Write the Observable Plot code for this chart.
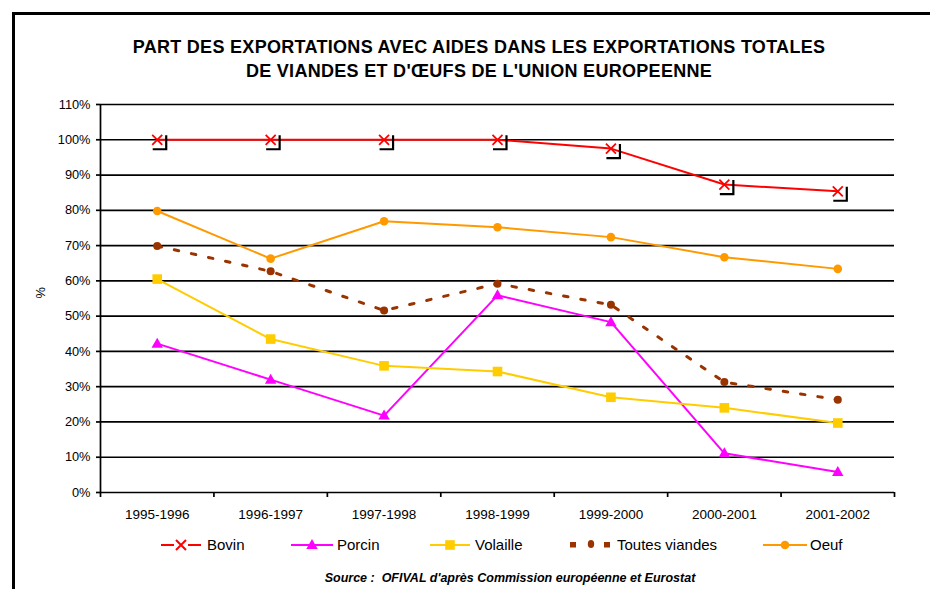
<!DOCTYPE html>
<html>
<head>
<meta charset="utf-8">
<script src="https://cdn.jsdelivr.net/npm/d3@7"></script>
<script src="https://cdn.jsdelivr.net/npm/@observablehq/plot@0.6"></script>
<style>
  html, body { margin: 0; padding: 0; background: #fff; width: 930px; height: 589px; overflow: hidden; }
  body { position: relative; font-family: "Liberation Sans", Arial, sans-serif; color: #000; }
  #frame { position: absolute; left: 12px; top: 12px; width: 940px; height: 600px;
           border-left: 3px solid #000; border-top: 3px solid #000; box-sizing: border-box; }
  #title { position: absolute; left: 0; top: 35px; width: 958px; text-align: center;
           font-weight: bold; font-size: 18px; line-height: 24px; letter-spacing: 0.3px; }
  #chart { position: absolute; left: 0; top: 90px; }
  #legend { position: absolute; left: 0; top: 530px; }
  #source { position: absolute; left: 0; top: 570px; width: 1020px; text-align: center;
            font-weight: bold; font-style: italic; font-size: 12.5px; line-height: 16px; }
</style>
</head>
<body>
<div id="frame"></div>
<div id="title">PART DES EXPORTATIONS AVEC AIDES DANS LES EXPORTATIONS TOTALES<br>DE VIANDES ET D'ŒUFS DE L'UNION EUROPEENNE</div>
<div id="chart"></div>
<div id="legend"></div>
<div id="source">Source :&nbsp; OFIVAL d'après Commission européenne et Eurostat</div>
<script>
// ---- data ----
const categories = ["1995-1996", "1996-1997", "1997-1998", "1998-1999", "1999-2000", "2000-2001", "2001-2002"];
const seriesNames = ["Bovin", "Porcin", "Volaille", "Toutes viandes", "Oeuf"];
const bovin    = [100, 100, 100, 100, 97.5, 87.3, 85.4];
const porcin   = [42.2, 32.0, 21.8, 55.9, 48.3, 11.1, 5.8];
const volaille = [60.5, 43.5, 35.9, 34.3, 27.0, 24.0, 19.7];
const toutes   = [69.9, 62.7, 51.6, 59.2, 53.2, 31.3, 26.3];
const oeuf     = [79.8, 66.3, 76.9, 75.2, 72.4, 66.7, 63.4];
const yTicks = [0, 10, 20, 30, 40, 50, 60, 70, 80, 90, 100, 110];

const seriesValues = [bovin, porcin, volaille, toutes, oeuf];
const colors = {"Bovin": "#FF0000", "Porcin": "#FF00FF", "Volaille": "#FFCC00", "Toutes viandes": "#993300", "Oeuf": "#FF9900"};

const rows = seriesNames.map((s, si) => seriesValues[si].map((v, i) => ({s, i, v})));
const [rBovin, rPorcin, rVolaille, rToutes, rOeuf] = rows;
const idx = categories.map((_, i) => i);
const bounds = d3.range(categories.length + 1).map(i => i - 0.5);

// ---- custom symbols ----
const crossSym = {draw(c) { const s = 5; c.moveTo(-s, -s); c.lineTo(s, s); c.moveTo(s, -s); c.lineTo(-s, s); }};
const bracketSym = {draw(c) { c.moveTo(9, -4.5); c.lineTo(9, 9.5); c.lineTo(-4.5, 9.5); }};
const triSym = {draw(c) { c.moveTo(0, -6); c.lineTo(5.7, 4); c.lineTo(-5.7, 4); c.closePath(); }};
const sqSym = {draw(c) { c.rect(-4.8, -4.8, 9.6, 9.6); }};

const FONT = "'Liberation Sans', Arial, sans-serif";

const plot = Plot.plot({
  width: 930,
  height: 440,
  marginLeft: 100,
  marginRight: 36,
  marginTop: 14,
  marginBottom: 38,
  style: {fontFamily: FONT, background: "transparent", overflow: "visible"},
  x: {type: "linear", domain: [-0.5, categories.length - 0.5]},
  y: {domain: [0, 110]},
  marks: [
    Plot.ruleY(yTicks.filter(d => d > 0), {stroke: "#000", strokeWidth: 1.7}),
    Plot.ruleY([0], {stroke: "#000", strokeWidth: 1.7}),
    Plot.ruleX([-0.5], {stroke: "#000", strokeWidth: 1.7}),
    Plot.axisY({ticks: yTicks, tickFormat: d => d + "%", tickSize: 4, tickPadding: 6, fontSize: 12.8, label: null, stroke: "#000", strokeWidth: 1.7}),
    Plot.axisX({ticks: bounds, tickFormat: () => "", tickSize: 5, label: null, stroke: "#000", strokeWidth: 1.7}),
    Plot.axisX({ticks: idx, tickFormat: i => categories[i], tickSize: 0, tickPadding: 17, fontSize: 13.5, label: null}),
    Plot.text(["%"], {frameAnchor: "left", dx: -60, rotate: -90, fontSize: 12.8, fill: "#000"}),

    // Bovin
    Plot.line(rBovin, {x: "i", y: "v", stroke: colors["Bovin"], strokeWidth: 2}),
    Plot.dot(rBovin, {x: "i", y: "v", symbol: bracketSym, r: 5, stroke: "#000", strokeWidth: 2.2, fill: "none"}),
    Plot.dot(rBovin, {x: "i", y: "v", symbol: crossSym, r: 5, stroke: colors["Bovin"], strokeWidth: 1.8, fill: "none"}),
    // Porcin
    Plot.line(rPorcin, {x: "i", y: "v", stroke: colors["Porcin"], strokeWidth: 2}),
    Plot.dot(rPorcin, {x: "i", y: "v", symbol: triSym, r: 5, fill: colors["Porcin"], stroke: "none"}),
    // Volaille
    Plot.line(rVolaille, {x: "i", y: "v", stroke: colors["Volaille"], strokeWidth: 2}),
    Plot.dot(rVolaille, {x: "i", y: "v", symbol: sqSym, r: 5, fill: colors["Volaille"], stroke: "none"}),
    // Toutes viandes
    Plot.line(rToutes, {x: "i", y: "v", stroke: colors["Toutes viandes"], strokeWidth: 3, strokeDasharray: "4.5,13"}),
    Plot.dot(rToutes, {x: "i", y: "v", r: 4, fill: colors["Toutes viandes"], stroke: "none"}),
    // Oeuf
    Plot.line(rOeuf, {x: "i", y: "v", stroke: colors["Oeuf"], strokeWidth: 2}),
    Plot.dot(rOeuf, {x: "i", y: "v", r: 4.3, fill: colors["Oeuf"], stroke: "none"})
  ]
});
document.getElementById("chart").appendChild(plot);

// ---- legend ----
const lg = d3.select("#legend").append("svg").attr("width", 930).attr("height", 30)
  .style("font-family", FONT).style("overflow", "visible");
const cy = 15;
const items = [
  {name: "Bovin", x0: 161, x1: 201, tx: 207},
  {name: "Porcin", x0: 291, x1: 333, tx: 337},
  {name: "Volaille", x0: 430, x1: 470, tx: 475},
  {name: "Toutes viandes", x0: 570, x1: 610, tx: 617},
  {name: "Oeuf", x0: 763, x1: 807, tx: 810}
];
items.forEach(it => {
  const col = colors[it.name];
  const g = lg.append("g");
  const mx = (it.x0 + it.x1) / 2;
  if (it.name === "Toutes viandes") {
    g.append("rect").attr("x", it.x0).attr("y", cy - 3).attr("width", 6).attr("height", 5.5).attr("fill", col);
    g.append("ellipse").attr("cx", mx + 1).attr("cy", cy - 1).attr("rx", 3.2).attr("ry", 4).attr("fill", col);
    g.append("rect").attr("x", it.x1 - 6).attr("y", cy - 3).attr("width", 6).attr("height", 5.5).attr("fill", col);
  } else {
    g.append("line").attr("x1", it.x0).attr("x2", it.x1).attr("y1", cy).attr("y2", cy)
      .attr("stroke", col).attr("stroke-width", 2);
    const sym = it.name === "Bovin" ? crossSym : it.name === "Porcin" ? triSym : it.name === "Volaille" ? sqSym : d3.symbolCircle;
    const path = d3.symbol().type(sym).size(58)();
    const p = g.append("path").attr("d", path).attr("transform", `translate(${mx},${cy})`);
    if (it.name === "Bovin") {
      g.append("rect").attr("x", mx - 7).attr("y", cy - 3).attr("width", 14).attr("height", 6).attr("fill", "#fff");
      g.append("path").attr("d", path).attr("transform", `translate(${mx},${cy})`).attr("stroke", col).attr("stroke-width", 2).attr("fill", "none");
      p.remove();
    } else {
      p.attr("fill", col);
    }
  }
  g.append("text").attr("x", it.tx).attr("y", cy).attr("dy", "0.36em").attr("font-size", 15).attr("fill", "#000").text(it.name);
});
</script>
</body>
</html>
